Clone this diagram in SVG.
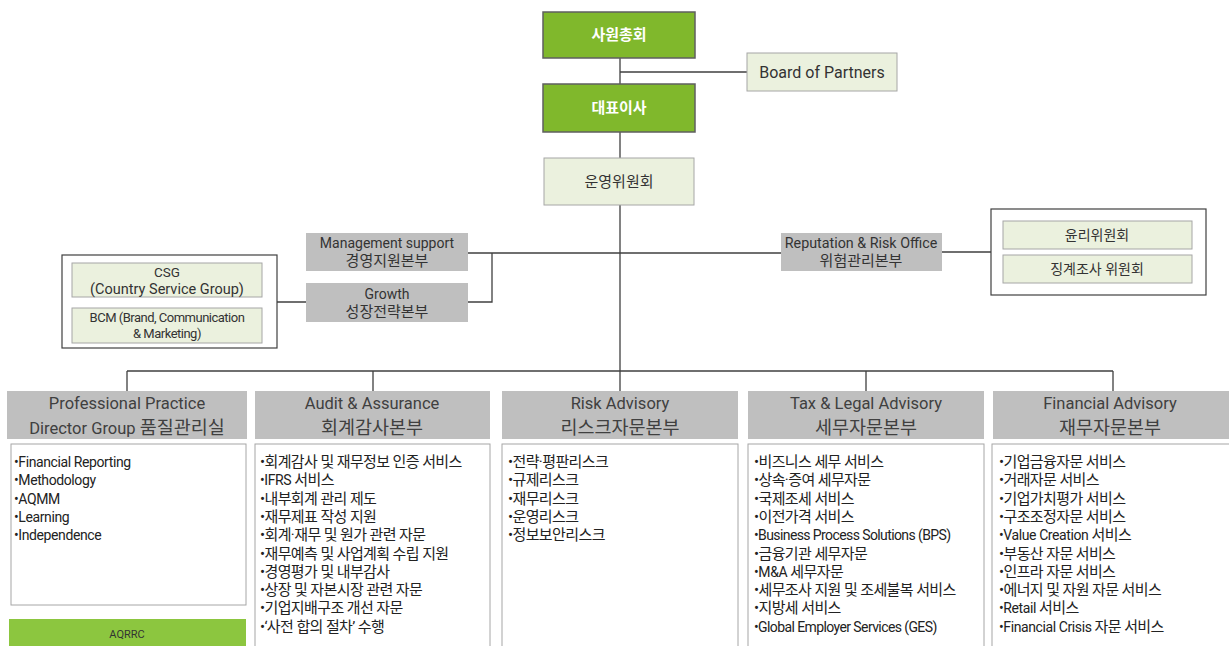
<svg xmlns="http://www.w3.org/2000/svg" width="1229" height="646" viewBox="0 0 1229 646">
<style>
text{font-family:Roboto,"Noto Sans CJK KR",sans-serif;fill:#333;}
.dg{fill:#80b82c;stroke:#5f5f5f;stroke-width:1.5;}
.lg{fill:#ebf1de;stroke:#a6a6a6;stroke-width:1;}
.gh{fill:#bfbfbf;stroke:none;}
.cb{fill:#fff;stroke:#a6a6a6;stroke-width:1;}
.grp{fill:#fff;stroke:#404040;stroke-width:1.2;}
.w{fill:#fff;font-weight:bold;font-size:15px;}
.t15{font-size:15px;}
.t14{font-size:14px;}
.k15{font-size:15px;}
.h{font-size:16.5px;fill:#404040;}
.hk{font-size:18.5px;}
.li{font-size:15px;fill:#222;letter-spacing:-0.6px;}
.la{font-size:14px;letter-spacing:-0.4px;}
.c{text-anchor:middle;}
.ln{fill:none;stroke:#404040;stroke-width:1.3;}
</style>
<rect width="1229" height="646" fill="#fff"/>
<g id="connectors">
<path class="ln" d="M620 58V84M620 72H747M620 132V158M620 205V371"/>
<path class="ln" d="M468 253H781M468 302H492V253M277 302H306M942 252H991"/>
<path class="ln" d="M127 371H1113M127 371V391M373 371V391M620 371V391M866 371V391M1113 371V391"/>
</g>
<g id="n-assembly"><rect class="dg" x="543" y="12" width="152" height="46"/><text class="w c" x="619" y="40">사원총회</text></g>
<g id="n-board"><rect class="lg" x="747" y="53" width="150" height="38"/><text class="c" x="822" y="78" style="font-size:16px">Board of Partners</text></g>
<g id="n-ceo"><rect class="dg" x="543" y="84" width="152" height="48"/><text class="w c" x="619" y="113">대표이사</text></g>
<g id="n-opcom"><rect class="lg" x="544" y="158" width="150" height="47"/><text class="t15 c" x="619" y="187">운영위원회</text></g>
<g id="n-mgmt"><rect class="gh" x="306" y="233" width="162" height="38"/><text class="t14 c" x="387" y="248">Management support</text><text class="k15 c" x="387" y="266">경영지원본부</text></g>
<g id="n-growth"><rect class="gh" x="306" y="283" width="162" height="39"/><text class="t14 c" x="387" y="299">Growth</text><text class="k15 c" x="387" y="317">성장전략본부</text></g>
<g id="n-leftgroup"><rect class="grp" x="62" y="255" width="215" height="93"/>
<rect class="lg" x="72" y="263" width="190" height="34"/><text class="c" x="167" y="276.5" style="font-size:13.5px">CSG</text><text class="c" x="167" y="294" style="font-size:14.5px">(Country Service Group)</text>
<rect class="lg" x="72" y="308" width="190" height="35"/><text class="c" x="167" y="321.5" style="font-size:13px;letter-spacing:-0.5px">BCM (Brand, Communication</text><text class="c" x="167" y="338" style="font-size:13px;letter-spacing:-0.5px">&amp; Marketing)</text></g>
<g id="n-risk-office"><rect class="gh" x="781" y="233" width="161" height="38"/><text class="c" x="861" y="248" style="font-size:14.3px">Reputation &amp; Risk Office</text><text class="k15 c" x="861" y="266">위험관리본부</text></g>
<g id="n-rightgroup"><rect class="grp" x="991" y="209" width="215" height="86"/>
<rect class="lg" x="1003" y="221" width="189" height="28"/><text class="t14 c" x="1097" y="240">윤리위원회</text>
<rect class="lg" x="1003" y="255" width="189" height="28"/><text class="t14 c" x="1097" y="274">징계조사 위원회</text></g>
<g id="n-ppd"><rect class="gh" x="7" y="391" width="240" height="48"/><text class="h c" x="127" y="409">Professional Practice</text><text class="h c" x="127" y="434">Director Group  <tspan class="hk">품질관리실</tspan></text>
<rect class="cb" x="11" y="444" width="235" height="161"/>
<text class="li" x="14" y="467"><tspan class="la" x="14">•Financial Reporting</tspan><tspan class="la" x="14" dy="18.3">•Methodology</tspan><tspan class="la" x="14" dy="18.3">•AQMM</tspan><tspan class="la" x="14" dy="18.3">•Learning</tspan><tspan class="la" x="14" dy="18.3">•Independence</tspan></text></g>
<g id="n-aqrrc"><rect x="9" y="619" width="237" height="30" fill="#8cc63f"/><text class="c" x="127" y="638" style="font-size:11px;fill:#333">AQRRC</text></g>
<g id="n-audit"><rect class="gh" x="255" y="391" width="235" height="48"/><text class="h c" x="372" y="409">Audit &amp; Assurance</text><text class="h hk c" x="372" y="434">회계감사본부</text>
<rect class="cb" x="255" y="444" width="235" height="210"/>
<text class="li" x="260" y="467"><tspan x="260">•회계감사 및 재무정보 인증 서비스</tspan><tspan x="260" dy="18.3"><tspan class="la">•IFRS</tspan> 서비스</tspan><tspan x="260" dy="18.3">•내부회계 관리 제도</tspan><tspan x="260" dy="18.3">•재무제표 작성 지원</tspan><tspan x="260" dy="18.3">•회계·재무 및 원가 관련 자문</tspan><tspan x="260" dy="18.3">•재무예측 및 사업계획 수립 지원</tspan><tspan x="260" dy="18.3">•경영평가 및 내부감사</tspan><tspan x="260" dy="18.3">•상장 및 자본시장 관련 자문</tspan><tspan x="260" dy="18.3">•기업지배구조 개선 자문</tspan><tspan x="260" dy="18.3">•‘사전 합의 절차’ 수행</tspan></text></g>
<g id="n-riskadv"><rect class="gh" x="502" y="391" width="236" height="48"/><text class="h c" x="620" y="409">Risk Advisory</text><text class="h hk c" x="620" y="434">리스크자문본부</text>
<rect class="cb" x="502" y="444" width="236" height="210"/>
<text class="li" x="508" y="467"><tspan x="508">•전략·평판리스크</tspan><tspan x="508" dy="18.3">•규제리스크</tspan><tspan x="508" dy="18.3">•재무리스크</tspan><tspan x="508" dy="18.3">•운영리스크</tspan><tspan x="508" dy="18.3">•정보보안리스크</tspan></text></g>
<g id="n-tax"><rect class="gh" x="748" y="391" width="236" height="48"/><text class="h c" x="866" y="409">Tax &amp; Legal Advisory</text><text class="h hk c" x="866" y="434">세무자문본부</text>
<rect class="cb" x="748" y="444" width="236" height="210"/>
<text class="li" x="754" y="467"><tspan x="754">•비즈니스 세무 서비스</tspan><tspan x="754" dy="18.3">•상속·증여 세무자문</tspan><tspan x="754" dy="18.3">•국제조세 서비스</tspan><tspan x="754" dy="18.3">•이전가격 서비스</tspan><tspan class="la" x="754" dy="18.3" style="letter-spacing:-0.6px">•Business Process Solutions (BPS)</tspan><tspan x="754" dy="18.3">•금융기관 세무자문</tspan><tspan x="754" dy="18.3"><tspan class="la">•M&amp;A</tspan> 세무자문</tspan><tspan x="754" dy="18.3">•세무조사 지원 및 조세불복 서비스</tspan><tspan x="754" dy="18.3">•지방세 서비스</tspan><tspan class="la" x="754" dy="18.3" style="letter-spacing:-0.6px">•Global Employer Services (GES)</tspan></text></g>
<g id="n-fin"><rect class="gh" x="993" y="391" width="236" height="48"/><text class="h c" x="1110" y="409">Financial Advisory</text><text class="h hk c" x="1110" y="434">재무자문본부</text>
<rect class="cb" x="992" y="444" width="240" height="210"/>
<text class="li" x="999" y="467"><tspan x="999">•기업금융자문 서비스</tspan><tspan x="999" dy="18.3">•거래자문 서비스</tspan><tspan x="999" dy="18.3">•기업가치평가 서비스</tspan><tspan x="999" dy="18.3">•구조조정자문 서비스</tspan><tspan x="999" dy="18.3"><tspan class="la">•Value Creation</tspan> 서비스</tspan><tspan x="999" dy="18.3">•부동산 자문 서비스</tspan><tspan x="999" dy="18.3">•인프라 자문 서비스</tspan><tspan x="999" dy="18.3">•에너지 및 자원 자문 서비스</tspan><tspan x="999" dy="18.3"><tspan class="la">•Retail</tspan> 서비스</tspan><tspan x="999" dy="18.3"><tspan class="la">•Financial Crisis</tspan> 자문 서비스</tspan></text></g>
</svg>
